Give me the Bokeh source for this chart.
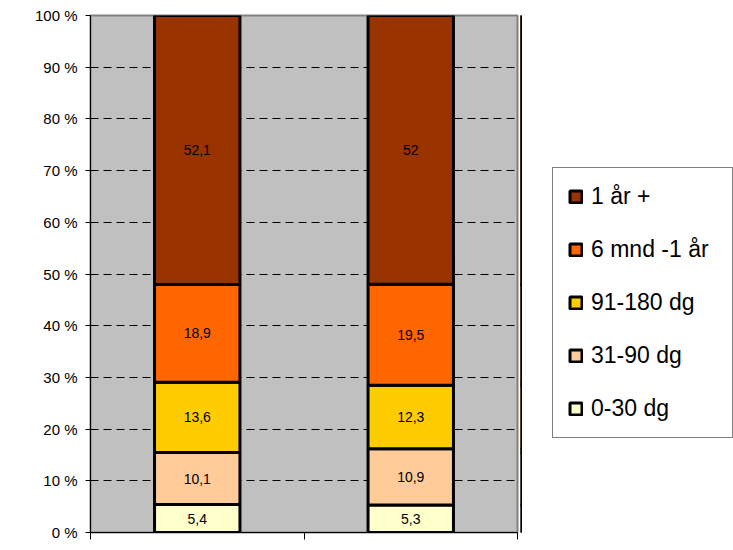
from bokeh.plotting import figure
from bokeh.layouts import row
from bokeh.models import ColumnDataSource, Legend, LegendItem, FixedTicker, Range1d
from bokeh.core.properties import value
from bokeh.embed import file_html
from bokeh.resources import INLINE

categories = ["A", "B"]
series_names = ["0-30 dg", "31-90 dg", "91-180 dg", "6 mnd -1 år", "1 år +"]
series_colors = ["#FFFFCC", "#FFCC99", "#FFCC00", "#FF6600", "#993300"]
values_0_30 = [5.4, 5.3]
values_31_90 = [10.1, 10.9]
values_91_180 = [13.6, 12.3]
values_6m_1y = [18.9, 19.5]
values_1y = [52.1, 52.0]
label_texts = {
    "0-30 dg": ["5,4", "5,3"],
    "31-90 dg": ["10,1", "10,9"],
    "91-180 dg": ["13,6", "12,3"],
    "6 mnd -1 år": ["18,9", "19,5"],
    "1 år +": ["52,1", "52"],
}
y_ticks = [0, 10, 20, 30, 40, 50, 60, 70, 80, 90, 100]

series_values = [values_0_30, values_31_90, values_91_180, values_6m_1y, values_1y]
x_pos = [i + 0.5 for i in range(len(categories))]
totals = [sum(s[i] for s in series_values) for i in range(len(categories))]
data = {"x": x_pos}
for name, vals in zip(series_names, series_values):
    data[name] = [v / t * 100 for v, t in zip(vals, totals)]
source = ColumnDataSource(data)

H = 548
p = figure(width=520, height=H, output_backend="svg", toolbar_location=None,
           x_range=Range1d(0, 2), y_range=Range1d(0, 100),
           min_border_left=90, min_border_right=3, min_border_top=15, min_border_bottom=16)
p.background_fill_color = "#C0C0C0"
p.border_fill_color = "white"
p.outline_line_color = "#808080"
p.outline_line_width = 2

renderers = p.vbar_stack(series_names, x="x", width=0.40, source=source,
                         fill_color=series_colors, line_color="black", line_width=3)

# labels
lx, ly, lt = [], [], []
for i in range(len(categories)):
    base = 0
    for name in series_names:
        h = data[name][i]
        lx.append(x_pos[i])
        ly.append(base + h / 2)
        lt.append(label_texts[name][i])
        base += h
p.text(x=lx, y=ly, text=lt, text_align="center", text_baseline="middle",
       text_font=value("Liberation Sans"), text_font_size="14px", text_color="black")

p.xgrid.visible = False
p.ygrid.ticker = FixedTicker(ticks=y_ticks[1:-1])
p.ygrid.grid_line_color = "black"
p.ygrid.grid_line_dash = "8 5"
p.ygrid.grid_line_width = 1

p.yaxis.ticker = FixedTicker(ticks=y_ticks)
p.yaxis.major_label_overrides = {t: f"{t} %" for t in y_ticks}
p.yaxis.major_label_text_font = "Liberation Sans"
p.yaxis.major_label_text_font_size = "15px"
p.yaxis.major_label_text_color = "black"
p.yaxis.major_tick_in = 0
p.yaxis.major_tick_out = 5
p.yaxis.minor_tick_line_color = None
p.yaxis.axis_line_color = "black"
p.yaxis.major_label_standoff = 8

p.xaxis.ticker = FixedTicker(ticks=[0, 1, 2])
p.xaxis.major_label_overrides = {0: "", 1: "", 2: ""}
p.xaxis.major_label_text_font_size = "0px"
p.xaxis.major_label_standoff = 0
p.xaxis.major_tick_in = 0
p.xaxis.major_tick_out = 7
p.xaxis.minor_tick_line_color = None
p.xaxis.axis_line_color = "black"
p.xaxis.major_tick_line_color = "black"

# legend figure (swatches drawn from the same data, outside its visible range)
p2 = figure(width=213, height=H, output_backend="svg", toolbar_location=None,
            x_range=Range1d(100, 101), y_range=Range1d(0, 100),
            min_border_left=0, min_border_right=0, min_border_top=0, min_border_bottom=0)
p2.axis.visible = False
p2.grid.visible = False
p2.outline_line_color = None
p2.background_fill_color = "white"
p2.border_fill_color = "white"
leg_renderers = p2.vbar_stack(series_names, x="x", width=0.40, source=source,
                              fill_color=series_colors, line_color="black", line_width=3)

items = [LegendItem(label=name, renderers=[r]) for name, r in zip(series_names, leg_renderers)][::-1]
legend = Legend(items=items, location=(32, 94), orientation="vertical",
                label_text_font="Liberation Sans", label_text_font_size="23px",
                label_text_color="black", glyph_width=15, glyph_height=15,
                label_height=25, label_width=126, spacing=26, padding=15, label_standoff=8,
                border_line_color="black", border_line_width=1,
                background_fill_color="white", background_fill_alpha=1.0, margin=0)
p2.add_layout(legend, "center")

open("out.html", "w").write(file_html(row(p, p2), INLINE))
